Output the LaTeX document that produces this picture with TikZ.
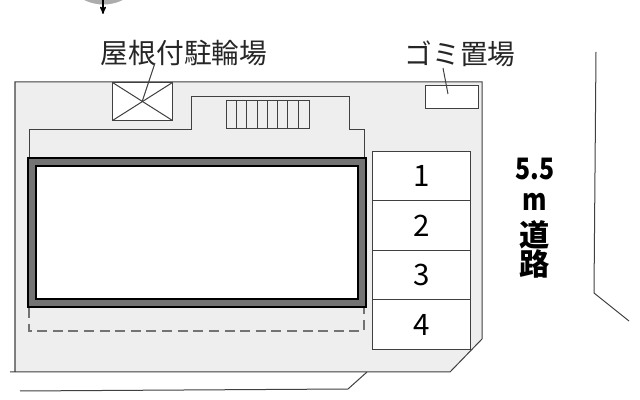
\documentclass[tikz,border=0pt]{standalone}
\usepackage{fontspec}
\newfontfamily\cjk{Noto Sans CJK JP}
\newfontfamily\roadnum[FakeStretch=0.84]{Noto Sans CJK JP}
\usepackage{xcolor}
\definecolor{colorSite}{gray}{0.935}
\definecolor{colorLine}{gray}{0.25}
\definecolor{colorWall}{gray}{0.45}
\usetikzlibrary{arrows, calc, positioning}
\tikzset{
  wire/.style={draw=colorLine, line width=0.25mm},
  stall/.style={wire, fill=white, minimum width=2.425cm, minimum height=1.2375cm, inner sep=0pt, outer sep=0pt, font=\cjk\fontsize{21}{21}\selectfont},
  caption/.style={inner sep=0pt, font=\cjk\fontsize{19.7}{19.7}\selectfont, text=black!85},
  road/.style={inner sep=0pt, font=\cjk\bfseries\fontsize{21.5}{21.5}\selectfont}
}

\begin{document}
\begin{tikzpicture}[>=stealth', x=0.025cm, y=-0.025cm]
\useasboundingbox[clip] (0,0) rectangle (640,400);
\fill[white] (0,0) rectangle (640,400);
\fill[gray!65] (103.5,-39) circle (43.5);
\draw[->, black, line width=0.3mm] (103,0) -- (103,14);
\fill[colorSite] (15,82) -- (482,82) -- (482,339) -- (450,372) -- (15,372) -- cycle;
\draw[wire] (15,372) -- (15,82) -- (482,82) -- (482,339) -- (450,372) -- (10,372);
\draw[wire] (20,391) -- (348,389) -- (367,372);
\draw[wire] (596,52) -- (594,293) -- (629,321);
\draw[wire] (29,158) -- (29,130) -- (191,130) -- (191,97) -- (349,97) -- (349,130) -- (364,130) -- (364,158);
\draw[wire, colorWall, line width=0.35mm, dash pattern=on 7.1pt off 4pt] (29,308) -- (29,331) -- (364,331) -- (364,308);
\node[draw=black, fill=colorWall, line width=0.6mm, minimum width=8.45cm, minimum height=3.725cm, inner sep=0pt] (building) at (197,232.5) {};
\node[draw=black, fill=white, line width=0.6mm, minimum width=8.05cm, minimum height=3.325cm, inner sep=0pt] (hall) at (197,232.5) {};
\node[wire, fill=white, minimum width=1.475cm, minimum height=0.925cm, inner sep=0pt] (bike) at (142.5,101.5) {};
\draw[wire] (bike.north west) -- (bike.south east);
\draw[wire] (bike.south west) -- (bike.north east);
\node[wire, fill=colorSite, minimum width=2.05cm, minimum height=0.675cm, inner sep=0pt] (stairs) at (268,114.5) {};
\foreach \i in {1,...,7}
  \draw[wire] ($(stairs.north west)+(\i*10.25,0)$) -- ($(stairs.south west)+(\i*10.25,0)$);
\node[wire, fill=white, minimum width=1.3cm, minimum height=0.55cm, inner sep=0pt] (trash) at (452,97) {};
\node[stall] (p1) at (421.5,176) {1};
\node[stall, below=0pt of p1] (p2) {2};
\node[stall, below=0pt of p2] (p3) {3};
\node[stall, below=0pt of p3] (p4) {4};
\node[caption] (bikeLabel) at (184,53) {屋根付駐輪場};
\node[caption] (trashLabel) at (460,54) {ゴミ置場};
\coordinate (bikeEnd) at (142,102);
\coordinate (trashEnd) at (448,94);
\draw[wire] (155,63) -- (bikeEnd);
\draw[wire] (443,68) -- (trashEnd);
\node[road, font=\roadnum\bfseries\fontsize{21}{21}\selectfont] (width) at (535,169) {5.5};
\node[road, font=\roadnum\bfseries\fontsize{21}{21}\selectfont] (unit) at (535,202) {m};
\node[road] (roadA) at (535,235) {道};
\node[road, below=0pt of roadA] (roadB) {路};
\end{tikzpicture}
\end{document}
